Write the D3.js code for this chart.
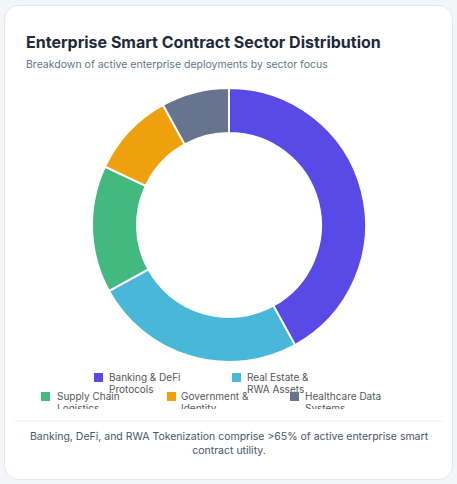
<!DOCTYPE html>
<html><head><meta charset="utf-8">
<script src="https://cdn.jsdelivr.net/npm/d3@7"></script>
<style>body{margin:0;background:#f4f5f9;font-family:Inter,"Noto Sans",sans-serif}</style>
</head><body><svg id="c" width="457" height="484"></svg>
<script>
const categories=["Banking & DeFi Protocols","Real Estate & RWA Assets","Supply Chain Logistics","Government & Identity","Healthcare Data Systems"];
const values=[42,25,15,10,8];
const colors=["#574ae6","#49b7d7","#42b97f","#eea10c","#66758d"];
const legendLines=[["Banking & DeFi","Protocols"],["Real Estate &","RWA Assets"],["Supply Chain","Logistics"],["Government &","Identity"],["Healthcare Data","Systems"]];
const svg=d3.select("#c");
svg.append("rect").attr("x",4.5).attr("y",5.5).attr("width",448).attr("height",474).attr("rx",14).attr("fill","#fff").attr("stroke","#e3e6ee");
svg.append("text").attr("x",26).attr("y",48).attr("font-size",16).attr("font-weight",700).attr("fill","#1e293b").text("Enterprise Smart Contract Sector Distribution");
svg.append("text").attr("x",26).attr("y",68).attr("font-size",10.5).attr("fill","#64748b").text("Breakdown of active enterprise deployments by sector focus");
const pie=d3.pie().sort(null).value(d=>d)(values);
const arc=d3.arc().innerRadius(92).outerRadius(137);
svg.append("g").attr("transform","translate(229,225)").selectAll("path").data(pie).join("path")
 .attr("d",arc).attr("fill",(d,i)=>colors[i]).attr("stroke","#fff").attr("stroke-width",2);
const pos=[[94,109,373],[232,247,373],[41,57,392],[167,181,392],[290,305,392]];
svg.append("clipPath").attr("id","cl").append("rect").attr("x",0).attr("y",0).attr("width",457).attr("height",409);
const lg=svg.append("g").attr("clip-path","url(#cl)");
categories.forEach((c,i)=>{
 const [sx,tx,y]=pos[i];
 lg.append("rect").attr("x",sx).attr("y",y).attr("width",9).attr("height",9).attr("fill",colors[i]);
 legendLines[i].forEach((l,j)=>lg.append("text").attr("x",tx).attr("y",y+8+j*12).attr("font-size",10).attr("fill","#555").text(l));
});
svg.append("line").attr("x1",14).attr("x2",443).attr("y1",421).attr("y2",421).attr("stroke","#eef0f4");
["Banking, DeFi, and RWA Tokenization comprise >65% of active enterprise smart","contract utility."].forEach((t,i)=>
 svg.append("text").attr("x",229).attr("y",440+i*14).attr("text-anchor","middle").attr("font-size",10.5).attr("fill","#475569").text(t));
</script></body></html>
